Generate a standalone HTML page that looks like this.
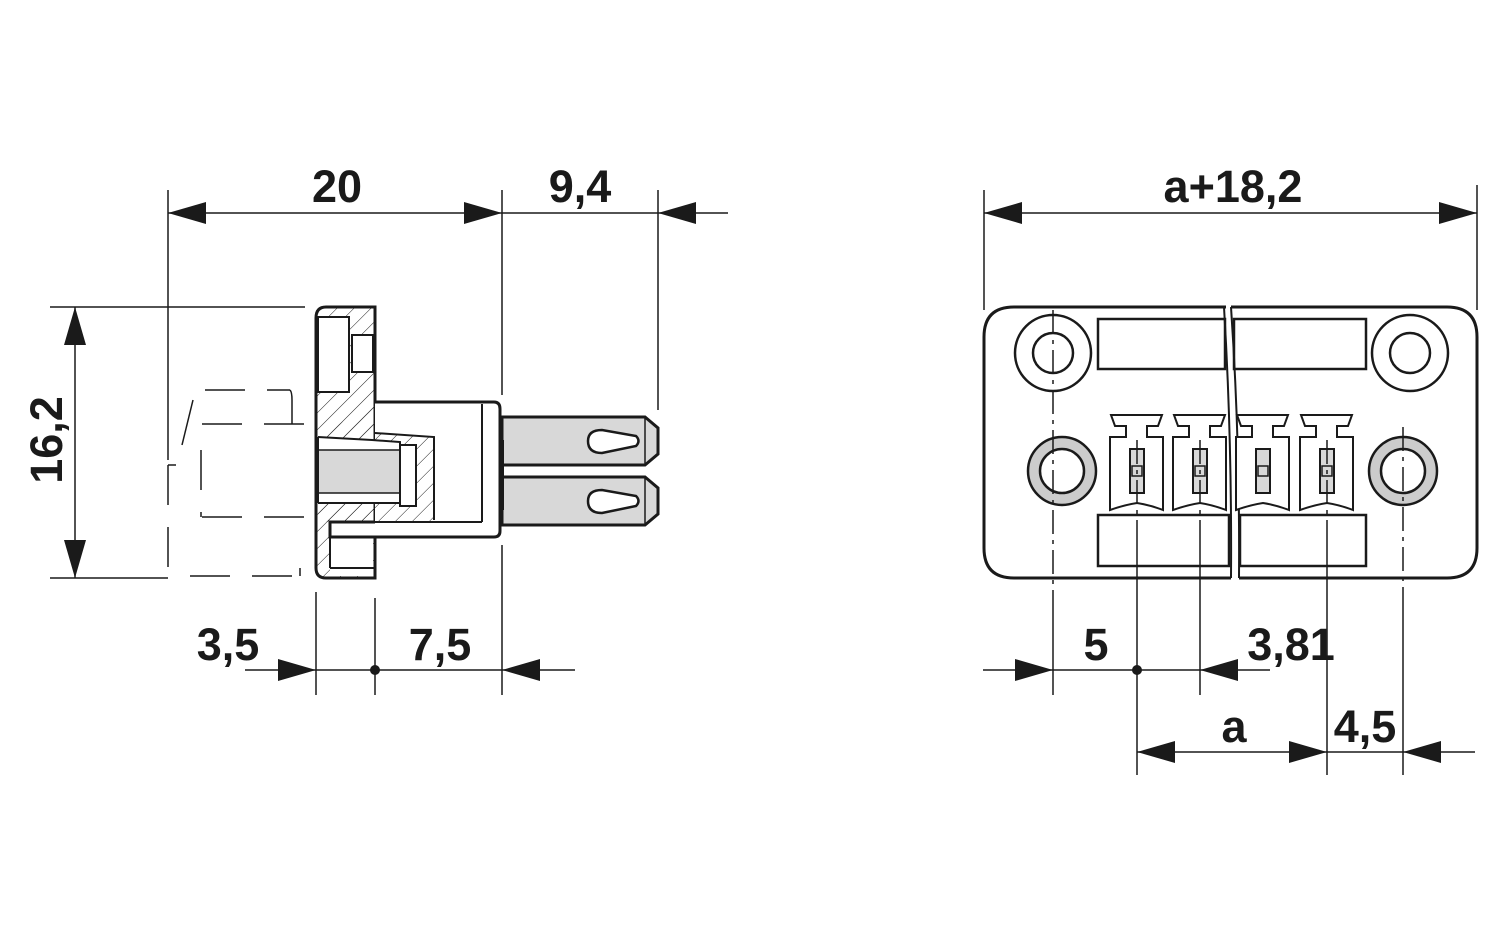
<!DOCTYPE html>
<html><head><meta charset="utf-8"><style>
html,body{margin:0;padding:0;background:#fff;}
svg{display:block;}
text{font-family:"Liberation Sans",Arial,sans-serif;font-weight:bold;font-size:45px;fill:#1a1a1a;text-anchor:middle;}
</style></head><body>
<svg width="1500" height="937" viewBox="0 0 1500 937" xmlns="http://www.w3.org/2000/svg">
<defs>
<pattern id="h" width="12" height="12" patternUnits="userSpaceOnUse" patternTransform="rotate(45)">
<line x1="0" y1="0" x2="0" y2="12" stroke="#222" stroke-width="1"/>
</pattern>
</defs>
<g stroke="#1a1a1a" fill="none">
<g stroke-width="1.5">
<line x1="168" y1="190" x2="168" y2="460"/>
<line x1="502" y1="190" x2="502" y2="395"/>
<line x1="658" y1="190" x2="658" y2="410"/>
<line x1="168" y1="213" x2="728" y2="213"/>
<line x1="50" y1="307" x2="305" y2="307"/>
<line x1="50" y1="578" x2="168" y2="578"/>
<line x1="75" y1="307" x2="75" y2="578"/>
<line x1="245" y1="670" x2="575" y2="670"/>
<line x1="316" y1="592" x2="316" y2="695"/>
<line x1="375" y1="598" x2="375" y2="695"/>
<line x1="502" y1="545" x2="502" y2="695"/>
</g>
<g fill="#1a1a1a" stroke="none">
<polygon points="168,213 206,202 206,224"/>
<polygon points="502,213 464,202 464,224"/>
<polygon points="658,213 696,202 696,224"/>
<polygon points="75,307 64,345 86,345"/>
<polygon points="75,578 64,540 86,540"/>
<polygon points="316,670 278,659 278,681"/>
<polygon points="502,670 540,659 540,681"/>
<circle cx="375" cy="670" r="5"/>
</g>
<g stroke-width="1.5" stroke-dasharray="40,22">
<line x1="205" y1="390" x2="290" y2="390"/>
<line x1="202" y1="424" x2="310" y2="424"/>
<line x1="202" y1="517" x2="310" y2="517"/>
<line x1="190" y1="576" x2="302" y2="576"/>
<line x1="201" y1="450" x2="201" y2="517"/>
<line x1="168" y1="465" x2="168" y2="576"/>
</g>
<path d="M290 390 Q292 392 292 400 L292 424" stroke-width="1.5"/>
<line x1="193" y1="400" x2="182" y2="445" stroke-width="1.5"/>
<line x1="168" y1="465" x2="176" y2="465" stroke-width="1.5"/>
<line x1="300" y1="568" x2="300" y2="576" stroke-width="1.5"/>
<path d="M316 318 Q316 307 326 307 L375 307 L375 578 L326 578 Q316 578 316 568 Z" fill="url(#h)" stroke-width="3"/>
<rect x="318" y="317" width="31" height="75" fill="#fff" stroke-width="2"/>
<rect x="352" y="335" width="21" height="37" fill="#fff" stroke-width="2"/>
<rect x="330" y="537" width="43" height="39" fill="#fff" stroke="none"/>
<line x1="330" y1="537" x2="330" y2="568" stroke-width="2"/>
<line x1="330" y1="568" x2="374" y2="568" stroke-width="2"/>
<path d="M375 402 L494 402 Q500 402 500 409 L500 531 Q500 537 494 537 L330 537 L330 522 L375 522" fill="#fff" stroke-width="3"/>
<rect x="375" y="404" width="106" height="118" fill="#fff" stroke="none"/>
<line x1="482" y1="404" x2="482" y2="522" stroke-width="2"/>
<line x1="330" y1="522" x2="482" y2="522" stroke-width="2"/>
<path d="M375 402 L375 433 L434 437 L434 522 L375 522 L318 522 L318 437 Z" fill="url(#h)" stroke="none"/>
<path d="M375 433 L434 437 L434 520" stroke-width="2"/>
<path d="M318 437 L372 440 L400 442 L400 503 L318 503" fill="#fff" stroke-width="2"/>
<rect x="318" y="450" width="82" height="43" fill="#d8d8d8" stroke-width="1.5"/>
<rect x="400" y="445" width="16" height="61" fill="#fff" stroke-width="2"/>
<line x1="318" y1="437" x2="318" y2="503" stroke-width="2"/>
<path d="M502 417 L645 417 L658 428 L658 454 L645 465 L502 465 Z" fill="#d8d8d8" stroke-width="3"/>
<path d="M502 477 L645 477 L658 488 L658 514 L645 525 L502 525 Z" fill="#d8d8d8" stroke-width="3"/>
<line x1="645" y1="417" x2="645" y2="465" stroke-width="1.5"/>
<line x1="645" y1="477" x2="645" y2="525" stroke-width="1.5"/>
<path d="M602 430 Q588 430 588 441 Q588 453 602 453 L636 446 Q641 441 636 436 Z" fill="#fff" stroke-width="2.5"/>
<path d="M602 490 Q588 490 588 501 Q588 513 602 513 L636 506 Q641 501 636 496 Z" fill="#fff" stroke-width="2.5"/>
<line x1="502" y1="440" x2="502" y2="510" stroke-width="4"/>

<g stroke-width="1.5">
<line x1="984" y1="190" x2="984" y2="310"/>
<line x1="1477" y1="185" x2="1477" y2="310"/>
<line x1="984" y1="213" x2="1477" y2="213"/>
<line x1="983" y1="670" x2="1270" y2="670"/>
<line x1="1137" y1="752" x2="1475" y2="752"/>
<line x1="1053" y1="600" x2="1053" y2="695"/>
<line x1="1137" y1="540" x2="1137" y2="775"/>
<line x1="1200" y1="540" x2="1200" y2="695"/>
<line x1="1327" y1="540" x2="1327" y2="775"/>
<line x1="1403" y1="600" x2="1403" y2="775"/>
</g>
<g fill="#1a1a1a" stroke="none">
<polygon points="984,213 1022,202 1022,224"/>
<polygon points="1477,213 1439,202 1439,224"/>
<polygon points="1053,670 1015,659 1015,681"/>
<polygon points="1200,670 1238,659 1238,681"/>
<circle cx="1137" cy="670" r="5"/>
<polygon points="1137,752 1175,741 1175,763"/>
<polygon points="1327,752 1289,741 1289,763"/>
<polygon points="1403,752 1441,741 1441,763"/>
</g>
<path d="M1226 307 L1014 307 Q984 307 984 337 L984 548 Q984 578 1014 578 L1231 578" stroke-width="3"/>
<path d="M1231 307 L1447 307 Q1477 307 1477 337 L1477 548 Q1477 578 1447 578 L1239 578" stroke-width="3"/>
<path d="M1224 307 Q1232 440 1231 578" stroke-width="2"/>
<path d="M1231 307 Q1240 440 1239 578" stroke-width="2"/>
<rect x="1098" y="319" width="127" height="50" stroke-width="2.5"/>
<rect x="1234" y="319" width="132" height="50" stroke-width="2.5"/>
<rect x="1098" y="515" width="131" height="51" stroke-width="2.5"/>
<rect x="1240" y="515" width="126" height="51" stroke-width="2.5"/>
<circle cx="1053" cy="353" r="38" stroke-width="2.5"/>
<circle cx="1053" cy="353" r="20" stroke-width="2.5"/>
<circle cx="1410" cy="353" r="38" stroke-width="2.5"/>
<circle cx="1410" cy="353" r="20" stroke-width="2.5"/>
<circle cx="1062" cy="471" r="28" stroke="#ccc" stroke-width="12"/>
<circle cx="1062" cy="471" r="34" stroke-width="2.5"/>
<circle cx="1062" cy="471" r="22" stroke-width="2.5"/>
<circle cx="1403" cy="471" r="28" stroke="#ccc" stroke-width="12"/>
<circle cx="1403" cy="471" r="34" stroke-width="2.5"/>
<circle cx="1403" cy="471" r="22" stroke-width="2.5"/>
<g id="t" stroke-width="2">
<path d="M1111 415 L1162 415 L1158 426 L1147 426 L1147 437 L1163 437 L1163 510 Q1150 505 1137 503 Q1124 505 1110 510 L1110 437 L1126 437 L1126 426 L1115 426 Z" fill="#fff"/>
<rect x="1130" y="449" width="14" height="44" fill="#d8d8d8"/>
<rect x="1132" y="466" width="10" height="10" stroke-width="1.5"/>
</g>
<use href="#t" x="63"/>
<use href="#t" x="126"/>
<use href="#t" x="190"/>
<g stroke-width="1.5" stroke-dasharray="24,6,4,6">
<line x1="1053" y1="310" x2="1053" y2="600"/>
<line x1="1403" y1="427" x2="1403" y2="600"/>
<line x1="1137" y1="440" x2="1137" y2="540"/>
<line x1="1200" y1="440" x2="1200" y2="540"/>
<line x1="1327" y1="440" x2="1327" y2="540"/>
</g>
</g>
<text x="337" y="202">20</text>
<text x="580" y="202">9,4</text>
<text x="228" y="660">3,5</text>
<text x="440" y="660">7,5</text>
<text transform="translate(62,440) rotate(-90)">16,2</text>
<text x="1233" y="202">a+18,2</text>
<text x="1096" y="660">5</text>
<text x="1291" y="660">3,81</text>
<text x="1234" y="742">a</text>
<text x="1365" y="742">4,5</text>
</svg>
</body></html>
